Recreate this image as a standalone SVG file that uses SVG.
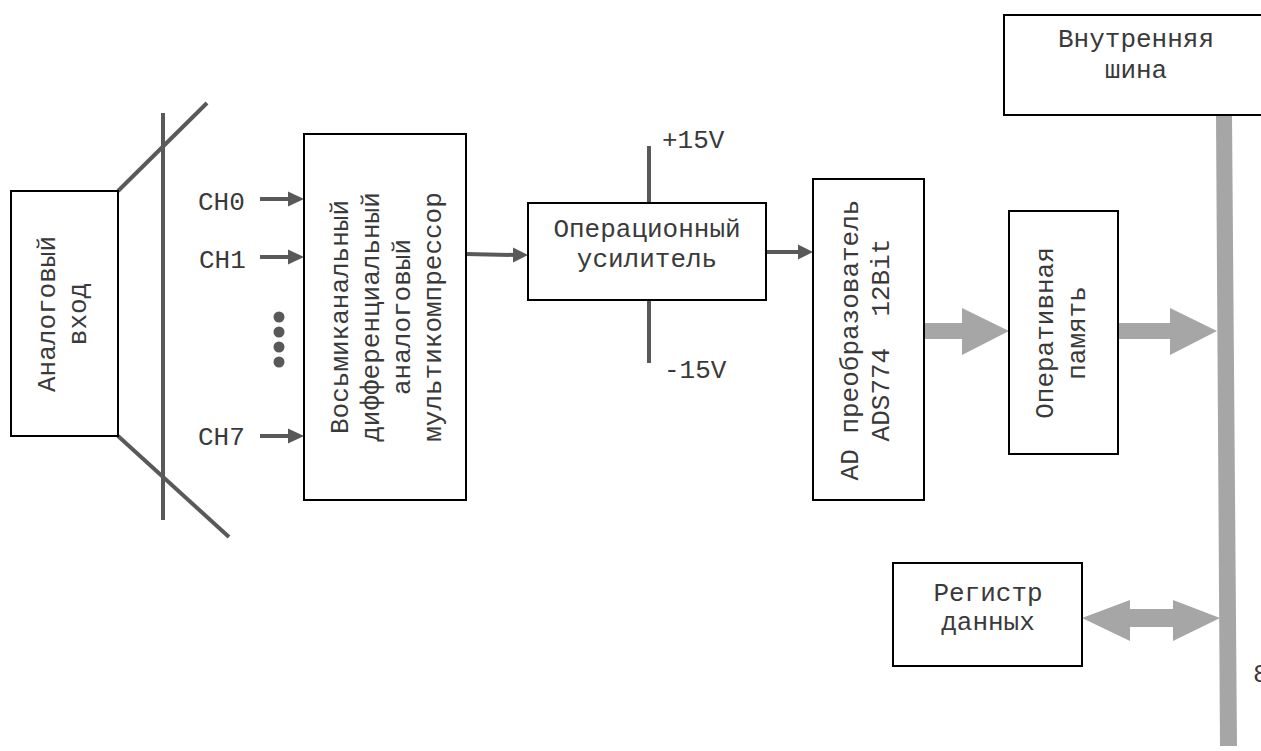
<svg xmlns="http://www.w3.org/2000/svg" width="1261" height="751" viewBox="0 0 1261 751">
<style>
.box{fill:#fff;stroke:#000;stroke-width:2}
.t{font-family:"Liberation Mono","Courier New",monospace;font-size:26px;fill:#3a3a3a}
.m{text-anchor:middle}
.ln{stroke:#595959;stroke-width:4;fill:none}
.ah{fill:#595959}
.big{fill:#a6a6a6}
</style>
<rect width="1261" height="751" fill="#fff"/>
<g id="connectors">
  <line class="ln" x1="118" y1="191" x2="207" y2="103"/>
  <line class="ln" x1="118" y1="436" x2="229" y2="537"/>
  <line class="ln" x1="163" y1="113" x2="163" y2="520"/>
  <line class="ln" x1="260" y1="199" x2="290" y2="199"/>
  <polygon class="ah" points="288,191.5 304,199 288,206.5"/>
  <line class="ln" x1="260" y1="257" x2="290" y2="257"/>
  <polygon class="ah" points="288,249.5 304,257 288,264.5"/>
  <line class="ln" x1="260" y1="436" x2="290" y2="436"/>
  <polygon class="ah" points="288,428.5 304,436 288,443.5"/>
  <line class="ln" x1="466" y1="254" x2="515" y2="255"/>
  <polygon class="ah" points="513,247.5 528,255 513,262.5"/>
  <line class="ln" x1="766" y1="252" x2="800" y2="252"/>
  <polygon class="ah" points="798,244.5 813,252 798,259.5"/>
  <line class="ln" x1="649" y1="146" x2="649" y2="203"/>
  <line class="ln" x1="649" y1="300" x2="649" y2="363"/>
  <polygon class="big" points="924,323 962,323 962,308 1009,331 962,355 962,339 924,339"/>
  <polygon class="big" points="1118,323 1170,323 1170,308 1217,331 1170,355 1170,339 1118,339"/>
  <polygon class="big" points="1082,618 1130,600 1130,609 1173,609 1173,600 1220,618 1173,641 1173,627 1130,627 1130,641"/>
  <polygon class="big" points="1216,115 1232,115 1237,746 1220,746"/>
</g>
<g id="dots" class="ah">
  <circle cx="279" cy="317" r="5.5"/>
  <circle cx="279" cy="332" r="5.5"/>
  <circle cx="279" cy="347" r="5.5"/>
  <circle cx="279" cy="362" r="5.5"/>
</g>
<g id="analog-input">
  <rect class="box" x="11" y="191" width="107" height="245"/>
  <text class="t m" transform="translate(55,314) rotate(-90)">Аналоговый</text>
  <text class="t m" transform="translate(86,314) rotate(-90)">вход</text>
</g>
<g id="channels">
  <text class="t" x="198" y="210">CH0</text>
  <text class="t" x="199" y="268">CH1</text>
  <text class="t" x="198" y="445">CH7</text>
</g>
<g id="mux">
  <rect class="box" x="304" y="134" width="162" height="366"/>
  <text class="t m" transform="translate(348,317) rotate(-90)">Восьмиканальный</text>
  <text class="t m" transform="translate(379,317) rotate(-90)">дифференциальный</text>
  <text class="t m" transform="translate(410,317) rotate(-90)">аналоговый</text>
  <text class="t m" transform="translate(441,317) rotate(-90)">мультикомпрессор</text>
</g>
<g id="opamp">
  <rect class="box" x="528" y="203" width="238" height="97"/>
  <text class="t m" x="647" y="237">Операционный</text>
  <text class="t m" x="647" y="267">усилитель</text>
  <text class="t" x="662" y="148">+15V</text>
  <text class="t" x="664" y="378">-15V</text>
</g>
<g id="adc">
  <rect class="box" x="813" y="179" width="111" height="321"/>
  <text class="t m" transform="translate(858,340) rotate(-90)">AD преобразователь</text>
  <text class="t m" style="white-space:pre" transform="translate(889,340) rotate(-90)">ADS774  12Bit</text>
</g>
<g id="ram">
  <rect class="box" x="1009" y="211" width="109" height="243"/>
  <text class="t m" transform="translate(1053,333) rotate(-90)">Оперативная</text>
  <text class="t m" transform="translate(1085,333) rotate(-90)">память</text>
</g>
<g id="bus">
  <rect class="box" x="1004" y="15" width="264" height="100"/>
  <text class="t m" x="1136" y="47">Внутренняя</text>
  <text class="t m" x="1136" y="78">шина</text>
</g>
<g id="register">
  <rect class="box" x="893" y="563" width="189" height="103"/>
  <text class="t m" x="988" y="601">Регистр</text>
  <text class="t m" x="988" y="630">данных</text>
</g>
<g id="page">
  <text class="t" x="1253" y="682">8</text>
</g>
</svg>
